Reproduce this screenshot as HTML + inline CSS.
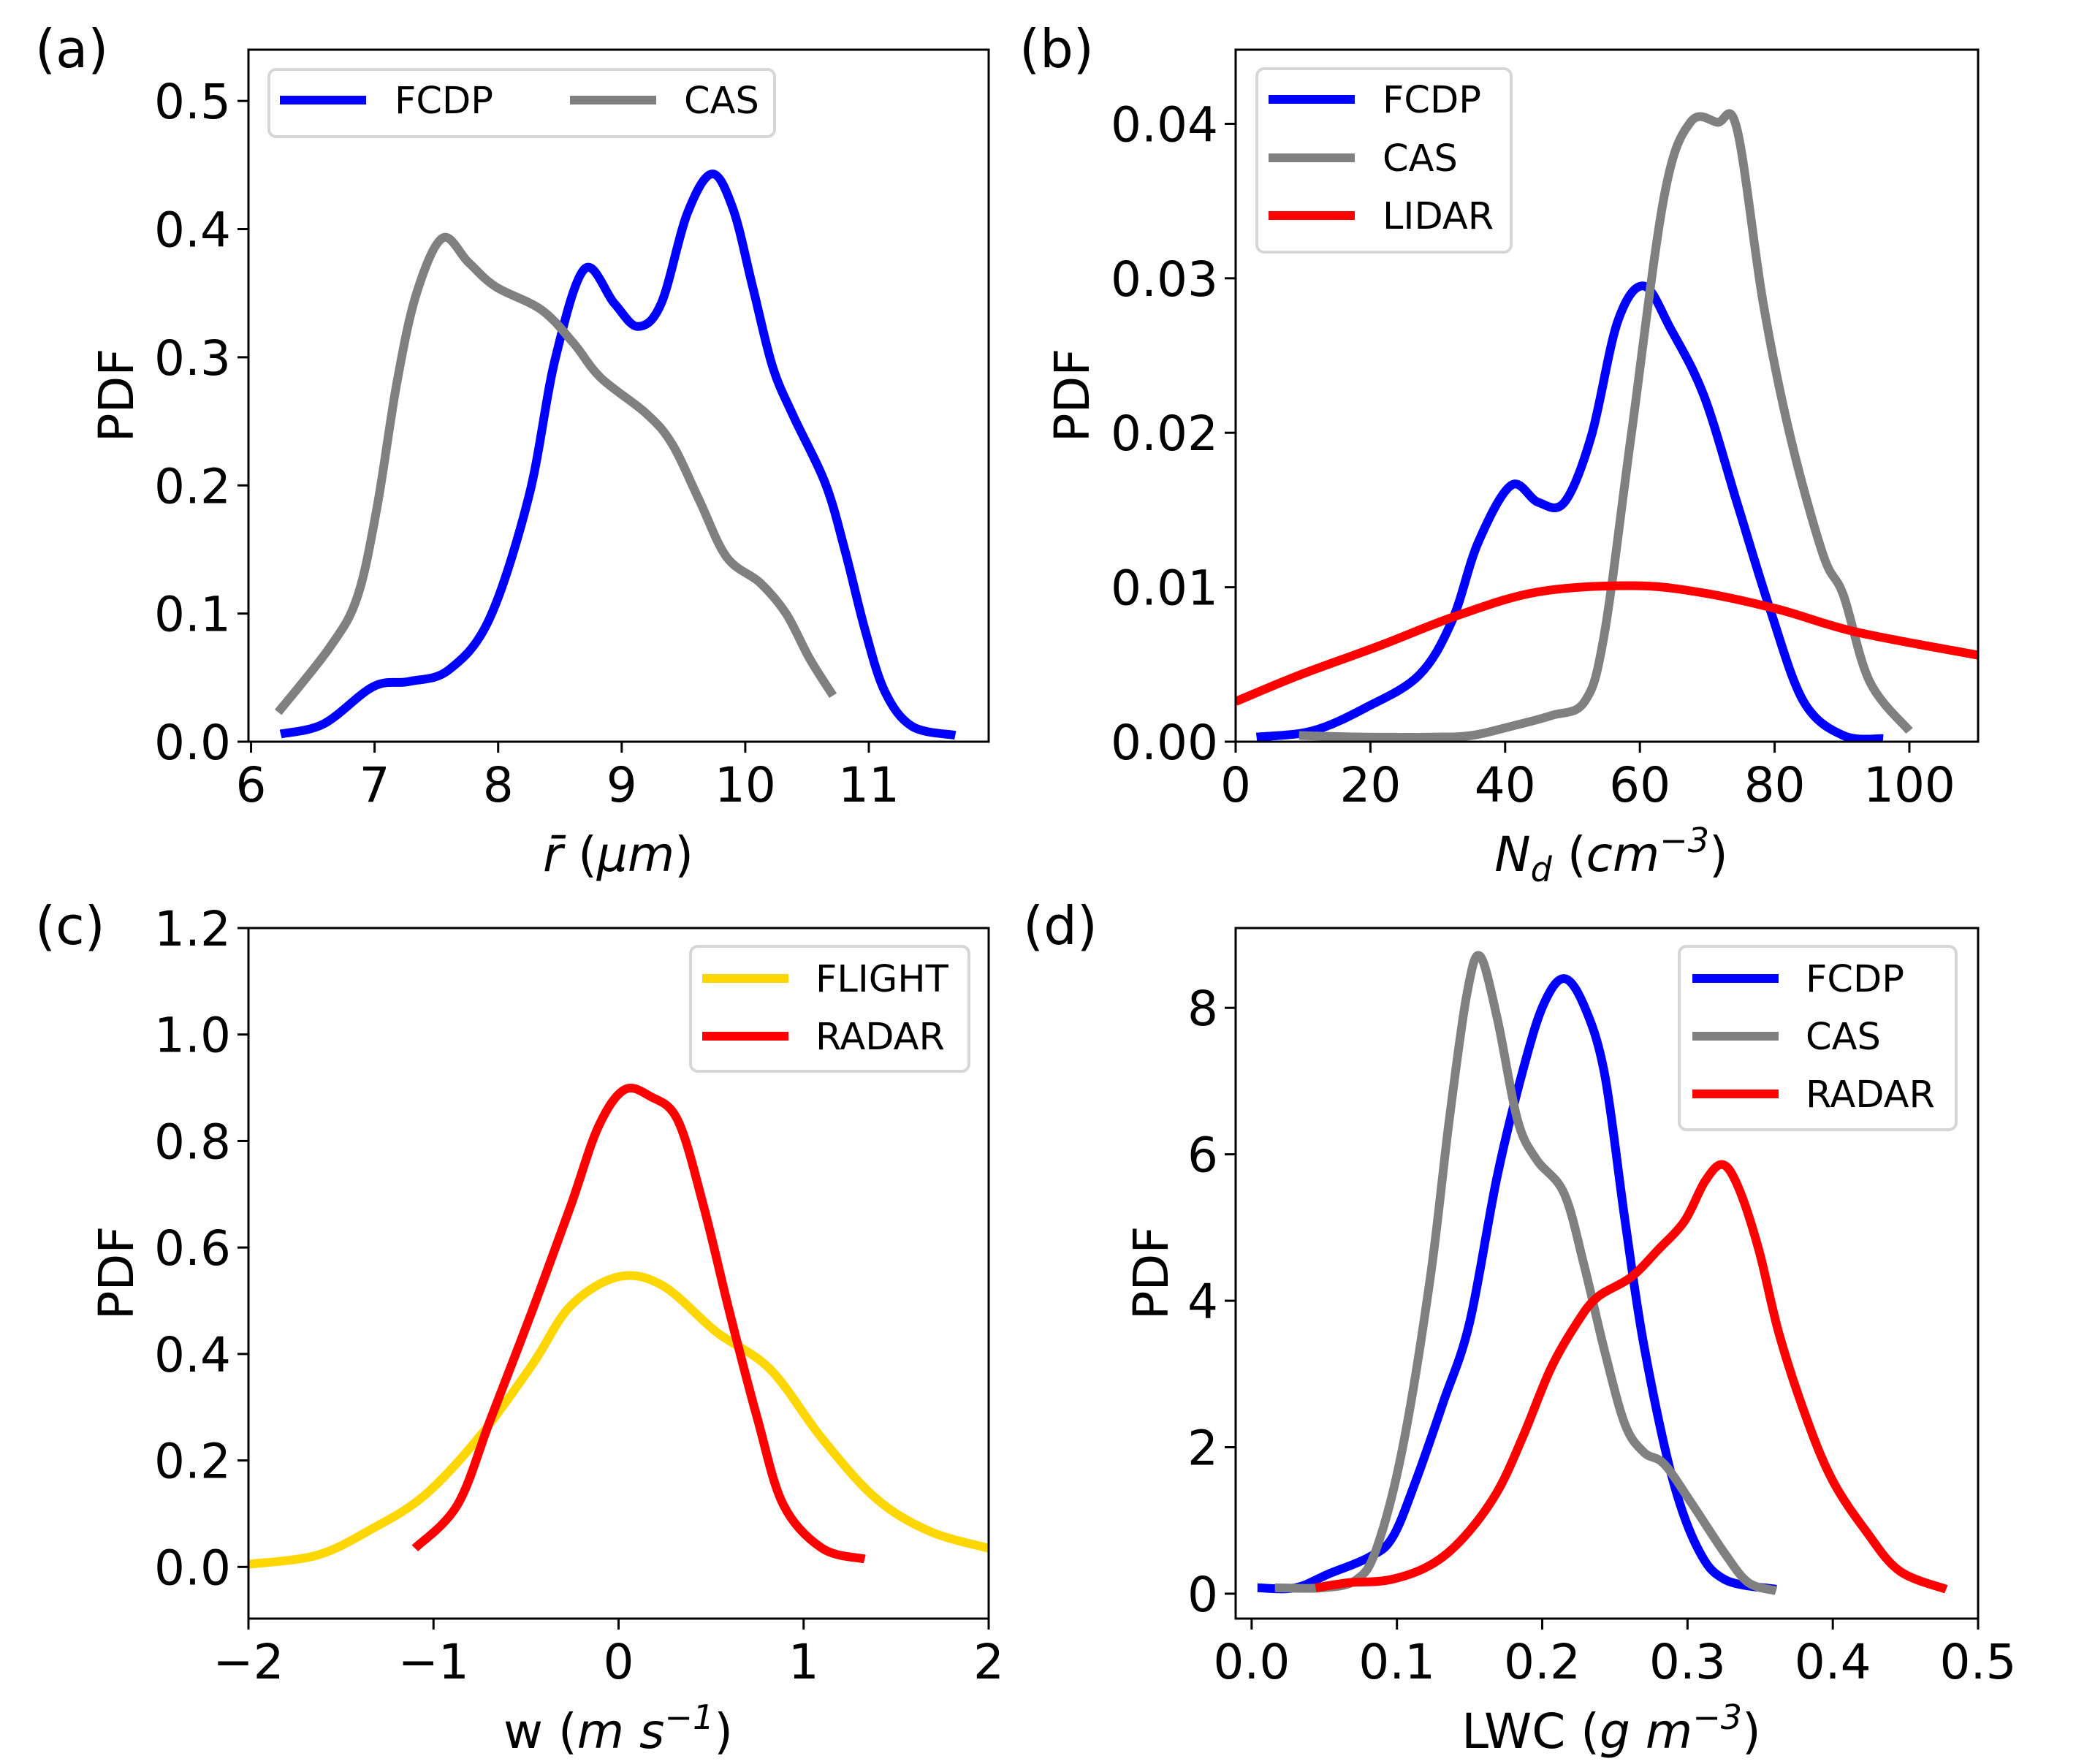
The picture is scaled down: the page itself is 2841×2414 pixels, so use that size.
<!DOCTYPE html>
<html><head><meta charset="utf-8">
<style>
html,body{margin:0;padding:0;background:#fff;}
svg{display:block;}
text{font-family:"DejaVu Sans","Liberation Sans",sans-serif;fill:#000;}
</style></head>
<body>
<svg id="fig" width="2841" height="2414" viewBox="0 0 2841 2414" xmlns="http://www.w3.org/2000/svg"></svg>
<script>
// ---- Panel (a) data: mean radius PDF ----
const aFcdpX=[6.24,6.59,6.99,7.28,7.60,7.93,8.25,8.46,8.70,8.94,9.13,9.32,9.53,9.73,9.90,10.06,10.22,10.39,10.65,10.81,10.97,11.13,11.35,11.70];
const aFcdpY=[0.006,0.014,0.043,0.047,0.056,0.096,0.192,0.298,0.369,0.342,0.324,0.342,0.412,0.443,0.416,0.355,0.293,0.254,0.201,0.148,0.087,0.039,0.012,0.005];
const aCasX=[6.22,6.64,6.86,7.02,7.18,7.34,7.55,7.76,7.98,8.35,8.61,8.83,9.20,9.41,9.63,9.85,10.12,10.33,10.52,10.71];
const aCasY=[0.023,0.074,0.113,0.183,0.28,0.350,0.393,0.374,0.355,0.337,0.311,0.284,0.256,0.232,0.188,0.144,0.124,0.100,0.065,0.036];
const aXTicks=[6,7,8,9,10,11];
const aYTicks=[0.0,0.1,0.2,0.3,0.4,0.5];
const aYTickLabels=["0.0","0.1","0.2","0.3","0.4","0.5"];
// ---- Panel (b) data: droplet number ----
const bFcdpX=[3.1,11.4,19.3,27.2,32.1,36.0,40.9,44.9,48.8,52.8,56.7,60.6,64.6,69.5,74.4,79.3,84.3,90.2,96.1];
const bFcdpY=[0.0003,0.0007,0.0022,0.0043,0.0078,0.0129,0.0166,0.0155,0.0155,0.0198,0.0272,0.0295,0.0267,0.0224,0.0155,0.0086,0.0026,0.0004,0.0002];
const bCasX=[9.4,19.3,29.1,35.0,40.9,46.9,51.8,54.7,58.7,63.6,67.5,71.5,74.4,78.3,82.3,87.2,90.2,94.1,100];
const bCasY=[0.0004,0.0003,0.0003,0.0004,0.0010,0.0017,0.0026,0.0069,0.0198,0.0353,0.0401,0.0401,0.0397,0.0284,0.0198,0.0121,0.0095,0.0039,0.0007];
const bLidarX=[0,9.4,21.3,33.1,44.9,58.7,68.5,80.3,92.1,110.2];
const bLidarY=[0.0026,0.0043,0.0062,0.0082,0.0097,0.0101,0.0097,0.0086,0.0071,0.0056];
const bXTicks=[0,20,40,60,80,100];
const bYTicks=[0,0.01,0.02,0.03,0.04];
const bYTickLabels=["0.00","0.01","0.02","0.03","0.04"];
// ---- Panel (c) data: vertical velocity ----
const cFlightX=[-2,-1.63,-1.33,-1.05,-0.76,-0.47,-0.26,0,0.24,0.53,0.82,1.10,1.39,1.68,2.0];
const cFlightY=[0.005,0.022,0.072,0.134,0.241,0.378,0.490,0.545,0.528,0.441,0.371,0.241,0.129,0.067,0.035];
const cRadarX=[-1.10,-0.87,-0.69,-0.47,-0.26,-0.11,0.03,0.17,0.32,0.46,0.60,0.75,0.89,1.10,1.33];
const cRadarY=[0.035,0.117,0.279,0.478,0.677,0.826,0.896,0.884,0.839,0.677,0.478,0.279,0.117,0.035,0.015];
const cXTicks=[-2,-1,0,1,2];
const cXTickLabels=["\u22122","\u22121","0","1","2"];
const cYTicks=[0,0.2,0.4,0.6,0.8,1.0,1.2];
const cYTickLabels=["0.0","0.2","0.4","0.6","0.8","1.0","1.2"];
// ---- Panel (d) data: LWC ----
const dFcdpX=[0.004,0.030,0.053,0.081,0.097,0.113,0.132,0.150,0.169,0.187,0.201,0.215,0.229,0.243,0.257,0.270,0.289,0.307,0.326,0.361];
const dFcdpY=[0.08,0.08,0.27,0.50,0.77,1.54,2.62,3.70,5.70,7.17,8.05,8.40,8.02,7.09,5.09,3.39,1.62,0.62,0.19,0.06];
const dCasX=[0.016,0.049,0.072,0.086,0.104,0.123,0.136,0.148,0.157,0.169,0.183,0.196,0.215,0.229,0.243,0.257,0.270,0.284,0.303,0.326,0.342,0.361];
const dCasY=[0.08,0.08,0.19,0.62,2.00,4.32,6.47,8.17,8.71,7.86,6.47,5.93,5.47,4.47,3.31,2.31,1.93,1.77,1.23,0.54,0.15,0.04];
const dRadarX=[0.044,0.067,0.095,0.123,0.146,0.169,0.187,0.206,0.224,0.238,0.261,0.280,0.298,0.312,0.324,0.335,0.349,0.363,0.382,0.400,0.423,0.446,0.478];
const dRadarY=[0.08,0.15,0.19,0.39,0.77,1.39,2.16,3.08,3.70,4.05,4.32,4.70,5.09,5.63,5.86,5.55,4.70,3.55,2.39,1.54,0.85,0.31,0.06];
const dXTicks=[0,0.1,0.2,0.3,0.4,0.5];
const dXTickLabels=["0.0","0.1","0.2","0.3","0.4","0.5"];
const dYTicks=[0,2,4,6,8];

const NS="http://www.w3.org/2000/svg";
const svg=document.getElementById('fig');
function mk(tag,attrs,parent){const e=document.createElementNS(NS,tag);for(const k in attrs)e.setAttribute(k,attrs[k]);(parent||svg).appendChild(e);return e;}
function scale(d0,d1,r0,r1){return v=>r0+(v-d0)/(d1-d0)*(r1-r0);}
function pathFrom(xs,ys,sx,sy){
  const p=xs.map((x,i)=>[sx(x),sy(ys[i])]);
  let d='M'+p[0][0].toFixed(1)+','+p[0][1].toFixed(1);
  for(let i=0;i<p.length-1;i++){
    const p0=p[Math.max(0,i-1)],p1=p[i],p2=p[i+1],p3=p[Math.min(p.length-1,i+2)];
    const c1=[p1[0]+(p2[0]-p0[0])/6,p1[1]+(p2[1]-p0[1])/6];
    const c2=[p2[0]-(p3[0]-p1[0])/6,p2[1]-(p3[1]-p1[1])/6];
    d+=' C'+c1[0].toFixed(1)+','+c1[1].toFixed(1)+' '+c2[0].toFixed(1)+','+c2[1].toFixed(1)+' '+p2[0].toFixed(1)+','+p2[1].toFixed(1);
  }
  return d;
}
function panel(o){
  const g=mk('g',{});
  
  
  const sx=scale(o.xlim[0],o.xlim[1],o.L,o.R), sy=scale(o.ylim[0],o.ylim[1],o.B,o.T);
  const clipId='clip-'+o.name;
  const cp=mk('clipPath',{id:clipId},g);
  mk('rect',{x:o.L,y:o.T,width:o.R-o.L,height:o.B-o.T},cp);
  const lines=mk('g',{'clip-path':'url(#'+clipId+')'},g);
  o.series.forEach(s=>{
    const pth=mk('path',{d:pathFrom(s.x,s.y,sx,sy),fill:'none',stroke:s.color,'stroke-width':12,'stroke-linejoin':'round'},lines);
    
    
  });
  o.xticks.forEach((t,i)=>{
    const x=sx(t);
    mk('line',{x1:x,y1:o.B,x2:x,y2:o.B+15,stroke:'#000','stroke-width':3},g);
    const tx=mk('text',{x:x,y:o.B+82,'font-size':66,'text-anchor':'middle'},g);
    tx.textContent=o.xlabels?o.xlabels[i]:String(t);
    
    
  });
  o.yticks.forEach((t,i)=>{
    const y=sy(t);
    mk('line',{x1:o.L-15,y1:y,x2:o.L,y2:y,stroke:'#000','stroke-width':3},g);
    const tx=mk('text',{x:o.L-24,y:y+24,'font-size':66,'text-anchor':'end'},g);
    tx.textContent=o.ylabels?o.ylabels[i]:String(t);
    
    
  });
  const fr=mk('rect',{x:o.L,y:o.T,width:o.R-o.L,height:o.B-o.T,fill:'none',stroke:'#000','stroke-width':3},g);
  
  
  const lg=mk('g',{},g);
  
  
  const Lb=o.legend;
  mk('rect',{x:Lb.x,y:Lb.y,width:Lb.w,height:Lb.h,rx:10,fill:'#fff','fill-opacity':0.8,stroke:'#d6d6d6','stroke-width':4},lg);
  Lb.items.forEach(it=>{
    const e=mk('g',{},lg);
    
    
    mk('line',{x1:it.lx,y1:it.y,x2:it.lx+118,y2:it.y,stroke:it.color,'stroke-width':12},e);
    const t=mk('text',{x:it.tx,y:it.y+18,'font-size':51},e);
    t.textContent=it.label;
  });
  return {g,sx,sy};
}
function label(txt,attrs,name){const t=mk('text',attrs);t.innerHTML=txt;return t;}

panel({name:'panel-a',L:340,R:1353,T:68,B:1015,xlim:[5.979,11.97],ylim:[0,0.540],
  xticks:aXTicks,yticks:aYTicks,ylabels:aYTickLabels,
  series:[{key:'fcdp',x:aFcdpX,y:aFcdpY,color:'#0000ff'},{key:'cas',x:aCasX,y:aCasY,color:'#808080'}],
  legend:{x:368,y:95,w:692,h:92,items:[{label:'FCDP',color:'#0000ff',lx:383,tx:540,y:137},{label:'CAS',color:'#808080',lx:780,tx:936,y:137}]}});
panel({name:'panel-b',L:1691,R:2707,T:68,B:1015,xlim:[0,110.2],ylim:[0,0.0448],
  xticks:bXTicks,yticks:bYTicks,ylabels:bYTickLabels,
  series:[{key:'fcdp',x:bFcdpX,y:bFcdpY,color:'#0000ff'},{key:'cas',x:bCasX,y:bCasY,color:'#808080'},{key:'lidar',x:bLidarX,y:bLidarY,color:'#ff0000'}],
  legend:{x:1720,y:94,w:348,h:251,items:[{label:'FCDP',color:'#0000ff',lx:1736,tx:1892,y:136},{label:'CAS',color:'#808080',lx:1736,tx:1892,y:216},{label:'LIDAR',color:'#ff0000',lx:1736,tx:1892,y:295}]}});
panel({name:'panel-c',L:340,R:1353,T:1270,B:2215,xlim:[-2,2],ylim:[-0.097,1.2],
  xticks:cXTicks,xlabels:cXTickLabels,yticks:cYTicks,ylabels:cYTickLabels,
  series:[{key:'flight',x:cFlightX,y:cFlightY,color:'#ffd700'},{key:'radar',x:cRadarX,y:cRadarY,color:'#ff0000'}],
  legend:{x:945,y:1295,w:381,h:171,items:[{label:'FLIGHT',color:'#ffd700',lx:961,tx:1116,y:1339},{label:'RADAR',color:'#ff0000',lx:961,tx:1116,y:1418}]}});
panel({name:'panel-d',L:1691,R:2707,T:1270,B:2215,xlim:[-0.011,0.5],ylim:[-0.34,9.09],
  xticks:dXTicks,xlabels:dXTickLabels,yticks:dYTicks,
  series:[{key:'fcdp',x:dFcdpX,y:dFcdpY,color:'#0000ff'},{key:'cas',x:dCasX,y:dCasY,color:'#808080'},{key:'radar',x:dRadarX,y:dRadarY,color:'#ff0000'}],
  legend:{x:2298,y:1295,w:379,h:251,items:[{label:'FCDP',color:'#0000ff',lx:2316,tx:2471,y:1339},{label:'CAS',color:'#808080',lx:2316,tx:2471,y:1418},{label:'RADAR',color:'#ff0000',lx:2316,tx:2471,y:1497}]}});

label('(a)',{x:48,y:92,'font-size':72},'panel-label-a');
label('(b)',{x:1395,y:92,'font-size':72},'panel-label-b');
label('(c)',{x:48,y:1292,'font-size':72},'panel-label-c');
label('(d)',{x:1400,y:1292,'font-size':72},'panel-label-d');
label('PDF',{x:182,y:541,'font-size':66,'text-anchor':'middle',transform:'rotate(-90 182 541)'},'y-axis-title-a');
label('PDF',{x:1490,y:541,'font-size':66,'text-anchor':'middle',transform:'rotate(-90 1490 541)'},'y-axis-title-b');
label('PDF',{x:182,y:1742,'font-size':66,'text-anchor':'middle',transform:'rotate(-90 182 1742)'},'y-axis-title-c');
label('PDF',{x:1598,y:1742,'font-size':66,'text-anchor':'middle',transform:'rotate(-90 1598 1742)'},'y-axis-title-d');
label('<tspan font-style="italic">r̄</tspan> (<tspan font-style="italic">μm</tspan>)',{x:846,y:1192,'font-size':66,'text-anchor':'middle'},'x-axis-title-a');
label('<tspan font-style="italic">N<tspan font-size="46" dy="14">d</tspan></tspan><tspan dy="-14"> (</tspan><tspan font-style="italic">cm<tspan font-size="46" dy="-26">−3</tspan></tspan><tspan dy="26">)</tspan>',{x:2205,y:1192,'font-size':66,'text-anchor':'middle'},'x-axis-title-b');
label('w (<tspan font-style="italic">m s<tspan font-size="46" dy="-26">−1</tspan></tspan><tspan dy="26">)</tspan>',{x:846,y:2392,'font-size':66,'text-anchor':'middle'},'x-axis-title-c');
label('LWC (<tspan font-style="italic">g m<tspan font-size="46" dy="-26">−3</tspan></tspan><tspan dy="26">)</tspan>',{x:2205,y:2392,'font-size':66,'text-anchor':'middle'},'x-axis-title-d');
</script>
</body></html>
